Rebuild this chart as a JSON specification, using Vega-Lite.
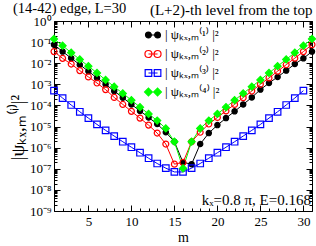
{
  "$schema": "https://vega.github.io/schema/vega-lite/v6.json",
  "width": 258,
  "height": 190,
  "autosize": "none",
  "padding": {"left": 54, "top": 21, "right": 4, "bottom": 35},
  "background": "white",
  "config": {
    "view": {"stroke": "black", "strokeWidth": 1},
    "font": "Liberation Serif",
    "axis": {"grid": false, "domain": false, "tickColor": "black", "labelColor": "black", "titleColor": "black", "labelFont": "Liberation Serif", "titleFont": "Liberation Serif", "titleFontWeight": "normal"},
    "legend": {"orient": "none", "legendX": 91, "legendY": 6, "title": null, "labelFontSize": 13, "labelFont": "Liberation Serif", "labelColor": "black", "rowPadding": 4, "symbolStrokeWidth": 1.2, "symbolSize": 196, "labelOffset": 4}
  },
  "title": {"text": "(14-42) edge, L=30", "anchor": "start", "frame": "group", "dx": -41, "offset": -14, "fontSize": 14.5, "fontWeight": "normal", "font": "Liberation Serif", "color": "black"},
  "data": {"values": [
    {"m":1,"s":"1","v":7.59e-2},{"m":2,"s":"1","v":3.55e-2},{"m":3,"s":"1","v":1.74e-2},{"m":4,"s":"1","v":8.51e-3},{"m":5,"s":"1","v":4.17e-3},{"m":6,"s":"1","v":2.00e-3},{"m":7,"s":"1","v":1.00e-3},{"m":8,"s":"1","v":4.79e-4},{"m":9,"s":"1","v":2.34e-4},{"m":10,"s":"1","v":1.12e-4},{"m":11,"s":"1","v":5.50e-5},{"m":12,"s":"1","v":2.69e-5},{"m":13,"s":"1","v":1.32e-5},{"m":14,"s":"1","v":5.37e-6},{"m":15,"s":"1","v":1.91e-6},{"m":16,"s":"1","v":2.00e-7},{"m":17,"s":"1","v":1.66e-7},{"m":18,"s":"1","v":1.48e-6},{"m":19,"s":"1","v":4.90e-6},{"m":20,"s":"1","v":1.17e-5},{"m":21,"s":"1","v":2.51e-5},{"m":22,"s":"1","v":5.25e-5},{"m":23,"s":"1","v":1.12e-4},{"m":24,"s":"1","v":2.40e-4},{"m":25,"s":"1","v":5.62e-4},{"m":26,"s":"1","v":1.15e-3},{"m":27,"s":"1","v":2.24e-3},{"m":28,"s":"1","v":4.47e-3},{"m":29,"s":"1","v":9.12e-3},{"m":30,"s":"1","v":1.70e-2},{"m":31,"s":"1","v":3.55e-2},
    {"m":1,"s":"2","v":3.55e-2},{"m":2,"s":"2","v":1.70e-2},{"m":3,"s":"2","v":9.12e-3},{"m":4,"s":"2","v":4.47e-3},{"m":5,"s":"2","v":2.24e-3},{"m":6,"s":"2","v":1.15e-3},{"m":7,"s":"2","v":5.62e-4},{"m":8,"s":"2","v":2.40e-4},{"m":9,"s":"2","v":1.12e-4},{"m":10,"s":"2","v":5.25e-5},{"m":11,"s":"2","v":2.51e-5},{"m":12,"s":"2","v":1.17e-5},{"m":13,"s":"2","v":4.90e-6},{"m":14,"s":"2","v":1.48e-6},{"m":15,"s":"2","v":1.66e-7},{"m":16,"s":"2","v":2.00e-7},{"m":17,"s":"2","v":1.91e-6},{"m":18,"s":"2","v":5.37e-6},{"m":19,"s":"2","v":1.32e-5},{"m":20,"s":"2","v":2.69e-5},{"m":21,"s":"2","v":5.50e-5},{"m":22,"s":"2","v":1.12e-4},{"m":23,"s":"2","v":2.34e-4},{"m":24,"s":"2","v":4.79e-4},{"m":25,"s":"2","v":1.00e-3},{"m":26,"s":"2","v":2.00e-3},{"m":27,"s":"2","v":4.17e-3},{"m":28,"s":"2","v":8.51e-3},{"m":29,"s":"2","v":1.74e-2},{"m":30,"s":"2","v":3.55e-2},{"m":31,"s":"2","v":7.59e-2},
    {"m":1,"s":"3","v":5.01e-4},{"m":2,"s":"3","v":2.24e-4},{"m":3,"s":"3","v":1.05e-4},{"m":4,"s":"3","v":5.01e-5},{"m":5,"s":"3","v":2.51e-5},{"m":6,"s":"3","v":1.26e-5},{"m":7,"s":"3","v":6.61e-6},{"m":8,"s":"3","v":3.55e-6},{"m":9,"s":"3","v":1.91e-6},{"m":10,"s":"3","v":1.05e-6},{"m":11,"s":"3","v":5.75e-7},{"m":12,"s":"3","v":3.16e-7},{"m":13,"s":"3","v":1.78e-7},{"m":14,"s":"3","v":1.07e-7},{"m":15,"s":"3","v":7.08e-8},{"m":16,"s":"3","v":7.08e-8},{"m":17,"s":"3","v":1.07e-7},{"m":18,"s":"3","v":1.78e-7},{"m":19,"s":"3","v":3.16e-7},{"m":20,"s":"3","v":5.75e-7},{"m":21,"s":"3","v":1.05e-6},{"m":22,"s":"3","v":1.91e-6},{"m":23,"s":"3","v":3.55e-6},{"m":24,"s":"3","v":6.61e-6},{"m":25,"s":"3","v":1.26e-5},{"m":26,"s":"3","v":2.51e-5},{"m":27,"s":"3","v":5.01e-5},{"m":28,"s":"3","v":1.05e-4},{"m":29,"s":"3","v":2.24e-4},{"m":30,"s":"3","v":5.01e-4},
    {"m":1,"s":"4","v":1.41e-1},{"m":2,"s":"4","v":6.76e-2},{"m":3,"s":"4","v":3.16e-2},{"m":4,"s":"4","v":1.51e-2},{"m":5,"s":"4","v":7.24e-3},{"m":6,"s":"4","v":3.47e-3},{"m":7,"s":"4","v":1.62e-3},{"m":8,"s":"4","v":7.76e-4},{"m":9,"s":"4","v":3.72e-4},{"m":10,"s":"4","v":1.78e-4},{"m":11,"s":"4","v":8.32e-5},{"m":12,"s":"4","v":3.98e-5},{"m":13,"s":"4","v":1.91e-5},{"m":14,"s":"4","v":8.13e-6},{"m":15,"s":"4","v":1.91e-6},{"m":16,"s":"4","v":1.05e-7},{"m":17,"s":"4","v":1.91e-6},{"m":18,"s":"4","v":8.13e-6},{"m":19,"s":"4","v":1.91e-5},{"m":20,"s":"4","v":3.98e-5},{"m":21,"s":"4","v":8.32e-5},{"m":22,"s":"4","v":1.78e-4},{"m":23,"s":"4","v":3.72e-4},{"m":24,"s":"4","v":7.76e-4},{"m":25,"s":"4","v":1.62e-3},{"m":26,"s":"4","v":3.47e-3},{"m":27,"s":"4","v":7.24e-3},{"m":28,"s":"4","v":1.51e-2},{"m":29,"s":"4","v":3.16e-2},{"m":30,"s":"4","v":6.76e-2},{"m":31,"s":"4","v":1.41e-1}
  ]},
  "resolve": {
    "axis": {"x": "independent", "y": "independent"},
    "scale": {"stroke": "independent", "fill": "independent", "shape": "independent", "size": "independent"}
  },
  "layer": [
    {
      "mark": {"type": "line", "strokeWidth": 1},
      "encoding": {
        "x": {"field": "m", "type": "quantitative", "scale": {"domain": [1, 31], "nice": false, "zero": false},
              "axis": {"orient": "bottom", "values": [5,10,15,20,25,30], "tickSize": -6, "labelPadding": 10, "labelFontSize": 13, "title": "m", "titleFontSize": 14, "titlePadding": 2}},
        "y": {"field": "v", "type": "quantitative", "scale": {"type": "log", "domain": [1e-9, 1], "nice": false},
              "axis": {"orient": "left", "values": [1e-9,1e-8,1e-7,1e-6,1e-5,1e-4,1e-3,1e-2,1e-1,1], "tickSize": -6, "labelPadding": 9, "labelFontSize": 13,
                       "labelExpr": "'10' + (datum.value < 0.5 ? '⁻' : '') + substring('⁰¹²³⁴⁵⁶⁷⁸⁹', abs(round(log(datum.value)/LN10)), abs(round(log(datum.value)/LN10)) + 1)",
                       "title": "|ψₖₓ,ₘ⁽ⁱ⁾|²", "titleFontSize": 19, "titlePadding": 2, "titleY": 106}},
        "stroke": {"field": "s", "type": "nominal", "scale": {"domain": ["1","2","3","4"], "range": ["#000000","#ff0000","#0000ff","#00ff00"]}, "legend": null},
        "detail": {"field": "s"}
      }
    },
    {
      "mark": {"type": "point", "strokeWidth": 1.2, "opacity": 1},
      "encoding": {
        "x": {"field": "m", "type": "quantitative",
              "axis": {"orient": "bottom", "values": [1,2,3,4,5,6,7,8,9,10,11,12,13,14,15,16,17,18,19,20,21,22,23,24,25,26,27,28,29,30,31], "tickSize": -3, "labels": false, "title": null}},
        "y": {"field": "v", "type": "quantitative",
              "axis": {"orient": "left", "values": [2e-9,3e-9,4e-9,5e-9,6e-9,7e-9,8e-9,9e-9,2e-8,3e-8,4e-8,5e-8,6e-8,7e-8,8e-8,9e-8,2e-7,3e-7,4e-7,5e-7,6e-7,7e-7,8e-7,9e-7,2e-6,3e-6,4e-6,5e-6,6e-6,7e-6,8e-6,9e-6,2e-5,3e-5,4e-5,5e-5,6e-5,7e-5,8e-5,9e-5,2e-4,3e-4,4e-4,5e-4,6e-4,7e-4,8e-4,9e-4,2e-3,3e-3,4e-3,5e-3,6e-3,7e-3,8e-3,9e-3,2e-2,3e-2,4e-2,5e-2,6e-2,7e-2,8e-2,9e-2,0.2,0.3,0.4,0.5,0.6,0.7,0.8,0.9], "tickSize": -3, "labels": false, "title": null}},
        "stroke": {"field": "s", "type": "nominal", "scale": {"domain": ["1","2","3","4"], "range": ["#000000","#ff0000","#0000ff","#00ff00"]}, "legend": null},
        "fill": {"field": "s", "type": "nominal", "scale": {"domain": ["1","2","3","4"], "range": ["#000000","rgba(0,0,0,0)","rgba(0,0,0,0)","#00ff00"]}, "legend": null},
        "shape": {"field": "s", "type": "nominal", "scale": {"domain": ["1","2","3","4"], "range": ["circle","circle","square","diamond"]}, "legend": null},
        "size": {"field": "s", "type": "nominal", "scale": {"domain": ["1","2","3","4"], "range": [28, 50, 50, 45]}, "legend": null}
      }
    },
    {
      "transform": [{"filter": "datum.m > 100"}],
      "mark": {"type": "point", "strokeWidth": 1.2, "size": 196, "opacity": 1},
      "encoding": {
        "x": {"field": "m", "type": "quantitative", "axis": null},
        "y": {"field": "v", "type": "quantitative", "axis": null},
        "stroke": {"field": "s", "type": "nominal", "scale": {"domain": ["1","2","3","4"], "range": ["#000000","#ff0000","#0000ff","#00ff00"]},
                   "legend": {"labelExpr": "'| ψₖₓ,ₘ⁽' + ['¹','²','³','⁴'][toNumber(datum.label) - 1] + '⁾ |²'"}},
        "fill": {"field": "s", "type": "nominal", "scale": {"domain": ["1","2","3","4"], "range": ["#000000","rgba(0,0,0,0)","rgba(0,0,0,0)","#00ff00"]},
                 "legend": {"labelExpr": "'| ψₖₓ,ₘ⁽' + ['¹','²','³','⁴'][toNumber(datum.label) - 1] + '⁾ |²'"}},
        "shape": {"field": "s", "type": "nominal", "scale": {"domain": ["1","2","3","4"], "range": [
                    "M-0.65,0L0.65,0M-1.07,0a0.42,0.42 0 1,0 0.84,0a0.42,0.42 0 1,0 -0.84,0ZM0.23,0a0.42,0.42 0 1,0 0.84,0a0.42,0.42 0 1,0 -0.84,0Z",
                    "M-0.65,0L0.65,0M-1.15,0a0.5,0.5 0 1,0 1,0a0.5,0.5 0 1,0 -1,0ZM0.15,0a0.5,0.5 0 1,0 1,0a0.5,0.5 0 1,0 -1,0Z",
                    "M-0.65,0L0.65,0M-1.12,-0.47h0.94v0.94h-0.94ZM0.18,-0.47h0.94v0.94h-0.94Z",
                    "M-0.65,0L0.65,0M-1.2,0l0.55,-0.55l0.55,0.55l-0.55,0.55ZM0.1,0l0.55,-0.55l0.55,0.55l-0.55,0.55Z"]},
                  "legend": {"labelExpr": "'| ψₖₓ,ₘ⁽' + ['¹','²','³','⁴'][toNumber(datum.label) - 1] + '⁾ |²'"}}
      }
    },
    {
      "mark": {"type": "point", "opacity": 0},
      "encoding": {
        "x": {"field": "m", "type": "quantitative",
              "axis": {"orient": "top", "values": [5,10,15,20,25,30], "tickSize": -6, "labels": false, "title": "(L+2)-th level from the top", "titleFontSize": 15, "titleAnchor": "end", "titlePadding": 3}},
        "y": {"field": "v", "type": "quantitative",
              "axis": {"orient": "right", "values": [1e-9,1e-8,1e-7,1e-6,1e-5,1e-4,1e-3,1e-2,1e-1,1], "tickSize": -6, "labels": false, "title": null}}
      }
    },
    {
      "mark": {"type": "point", "opacity": 0},
      "encoding": {
        "x": {"field": "m", "type": "quantitative",
              "axis": {"orient": "top", "values": [1,2,3,4,5,6,7,8,9,10,11,12,13,14,15,16,17,18,19,20,21,22,23,24,25,26,27,28,29,30,31], "tickSize": -3, "labels": false, "title": null}},
        "y": {"field": "v", "type": "quantitative",
              "axis": {"orient": "right", "values": [2e-9,3e-9,4e-9,5e-9,6e-9,7e-9,8e-9,9e-9,2e-8,3e-8,4e-8,5e-8,6e-8,7e-8,8e-8,9e-8,2e-7,3e-7,4e-7,5e-7,6e-7,7e-7,8e-7,9e-7,2e-6,3e-6,4e-6,5e-6,6e-6,7e-6,8e-6,9e-6,2e-5,3e-5,4e-5,5e-5,6e-5,7e-5,8e-5,9e-5,2e-4,3e-4,4e-4,5e-4,6e-4,7e-4,8e-4,9e-4,2e-3,3e-3,4e-3,5e-3,6e-3,7e-3,8e-3,9e-3,2e-2,3e-2,4e-2,5e-2,6e-2,7e-2,8e-2,9e-2,0.2,0.3,0.4,0.5,0.6,0.7,0.8,0.9], "tickSize": -3, "labels": false, "title": null}}
      }
    },
    {
      "data": {"values": [{}]},
      "mark": {"type": "text", "text": "kₓ=0.8 π, E=0.168", "align": "right", "baseline": "middle", "dx": -1, "fontSize": 15, "font": "Liberation Serif", "color": "black"},
      "encoding": {
        "x": {"datum": 31, "type": "quantitative", "axis": null},
        "y": {"datum": 3.3e-9, "type": "quantitative", "axis": null}
      }
    }
  ]
}
